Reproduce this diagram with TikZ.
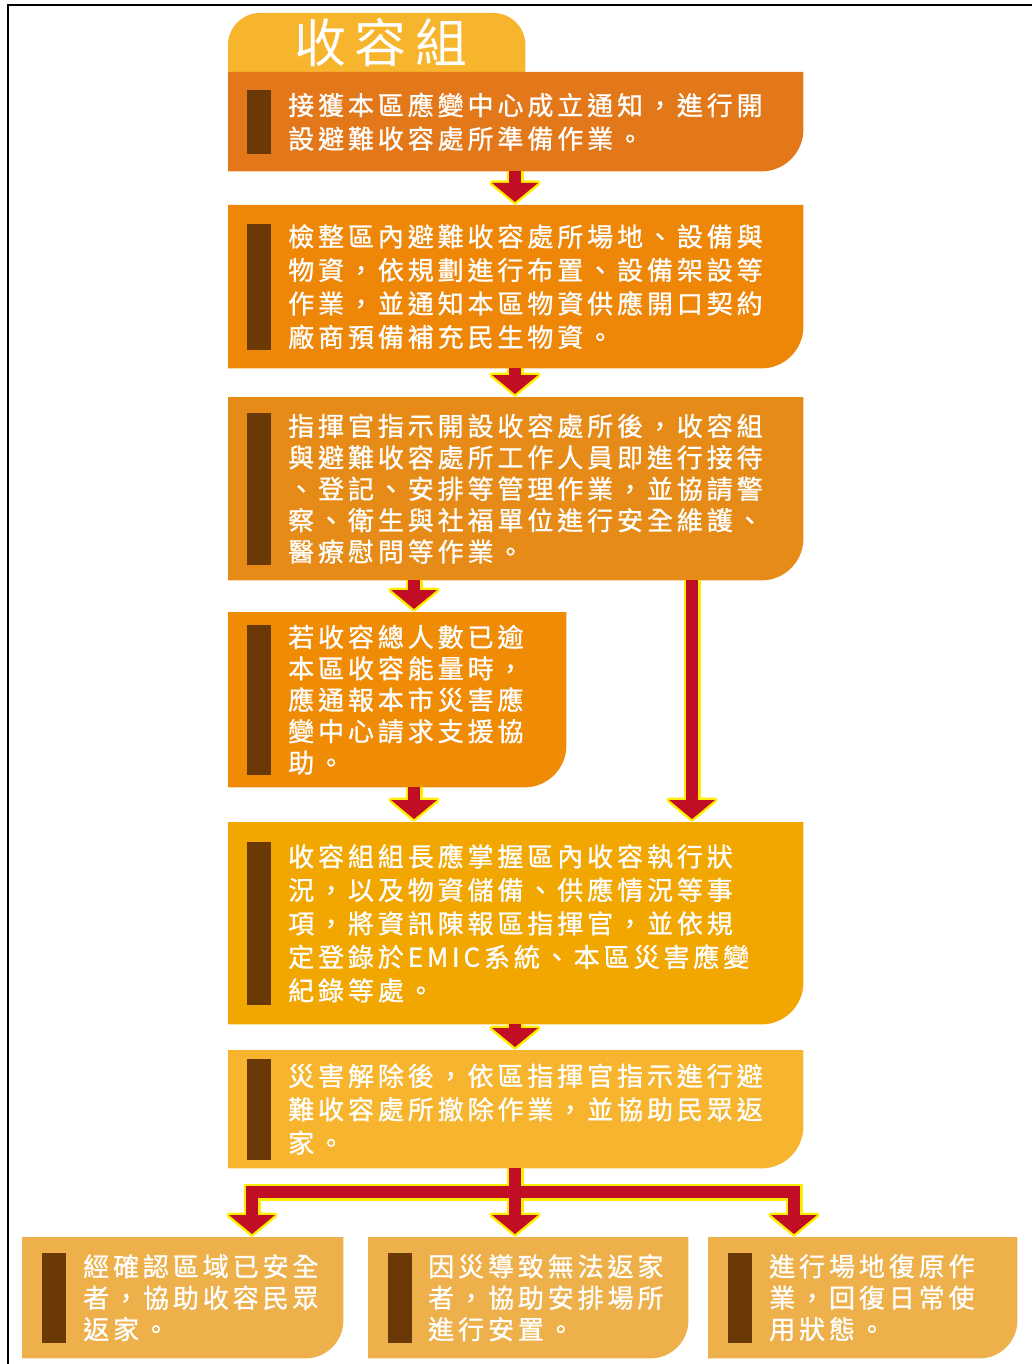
\documentclass[tikz,border=0pt]{standalone}
\usepackage{fontspec}
\newfontfamily\cjk[LetterSpace=15,FakeBold=1]{Noto Sans CJK TC}
\newfontfamily\cjktitle[LetterSpace=16]{Noto Sans CJK TC}
\usetikzlibrary{calc}
\usetikzlibrary{positioning}

\definecolor{tabcol}{HTML}{F7B52E}
\definecolor{stepone}{HTML}{E27819}
\definecolor{steptwo}{HTML}{EE8607}
\definecolor{stepthree}{HTML}{E68B17}
\definecolor{stepfour}{HTML}{EF8B04}
\definecolor{stepfive}{HTML}{F2A600}
\definecolor{stepsix}{HTML}{F7B52F}
\definecolor{endcol}{HTML}{EDB04A}
\definecolor{barbrown}{HTML}{6B3906}
\definecolor{arrowred}{HTML}{C20E24}
\definecolor{glowyellow}{HTML}{FFEE00}

% box with its lower right corner rounded
\newcommand{\boxfill}[3]{%
  \fill[#2] (#1.north west) -- (#1.north east) -- ([yshift=#3]#1.south east)
    arc[start angle=0, end angle=-90, radius=#3] -- (#1.south west) -- cycle;}

% red arrow with a yellow rim, #1 start, #2 tip
\newcommand{\flowarrow}[2]{%
  \draw[glowline] (#1) -- ($(#2)+(0,-16)$);
  \path[glowhead] (#2) -- ++(-23,-19) -- ++(46,0) -- cycle;
  \draw[redline] (#1) -- ($(#2)+(0,-16)$);
  \path[redhead] (#2) -- ++(-23,-19) -- ++(46,0) -- cycle;}

\begin{document}
\begin{tikzpicture}[%
  x=1pt, y=-1pt,
  box/.style={rectangle, inner sep=0pt, anchor=north west},
  bar/.style={rectangle, inner sep=0pt, fill=barbrown, minimum width=24pt},
  txt/.style={anchor=west, inner sep=0pt, text=white, align=left,
    font=\cjk\fontsize{26}{33.5}\selectfont},
  txttight/.style={txt, font=\cjk\fontsize{26}{31.4}\selectfont},
  glowline/.style={draw=glowyellow, line width=17pt},
  redline/.style={draw=arrowred, line width=12pt},
  glowhead/.style={fill=glowyellow, draw=glowyellow, line width=5pt, line join=round},
  redhead/.style={fill=arrowred}
]

  \useasboundingbox (0,0) rectangle (1032,1364);
  \draw[line width=2.5pt] (8,1364) -- (8,5) -- (1032,5);

  % columns of the arrows
  \coordinate (mid) at (515,0);
  \coordinate (lcol) at (414,0);
  \coordinate (rcol) at (692,0);
  \coordinate (acol) at (252,0);
  \coordinate (ccol) at (794,0);

  % title tab
  \node[box, minimum width=297pt, minimum height=59pt] (tab) at (228,13) {};
  \fill[tabcol] (tab.south west) -- ([yshift=-32pt]tab.north west)
    arc[start angle=180, end angle=90, radius=32pt] -- ([xshift=-32pt]tab.north east)
    arc[start angle=90, end angle=0, radius=32pt] -- (tab.south east) -- cycle;
  \node[inner sep=0pt, text=white, font=\cjktitle\fontsize{52}{54}\selectfont]
    (title) at (381,43) {收容組};

  % steps
  \node[box, minimum width=575pt, minimum height=99pt] (s1) at (228,72) {};
  \boxfill{s1}{stepone}{42pt}
  \node[bar, minimum height=64pt] (s1bar) at ([xshift=31pt]s1.west) {};
  \node[txt] (s1txt) at ([xshift=60pt]s1.west)
    {接獲本區應變中心成立通知，進行開\\設避難收容處所準備作業。};

  \node[box, minimum width=575pt, minimum height=163pt] (s2) at (228,205) {};
  \boxfill{s2}{steptwo}{42pt}
  \node[bar, minimum height=126pt] (s2bar) at ([xshift=31pt]s2.west) {};
  \node[txt] (s2txt) at ([xshift=60pt]s2.west)
    {檢整區內避難收容處所場地、設備與\\物資，依規劃進行布置、設備架設等\\%
     作業，並通知本區物資供應開口契約\\廠商預備補充民生物資。};

  \node[box, minimum width=575pt, minimum height=183pt] (s3) at (228,397) {};
  \boxfill{s3}{stepthree}{42pt}
  \node[bar, minimum height=152pt] (s3bar) at ([xshift=31pt]s3.west) {};
  \node[txttight] (s3txt) at ([xshift=60pt]s3.west)
    {指揮官指示開設收容處所後，收容組\\與避難收容處所工作人員即進行接待\\%
     、登記、安排等管理作業，並協請警\\察、衛生與社福單位進行安全維護、\\醫療慰問等作業。};

  \node[box, minimum width=338pt, minimum height=175pt] (s4) at (228,612) {};
  \boxfill{s4}{stepfour}{42pt}
  \node[bar, minimum height=150pt] (s4bar) at ([xshift=31pt]s4.west) {};
  \node[txttight] (s4txt) at ([xshift=60pt]s4.west)
    {若收容總人數已逾\\本區收容能量時，\\應通報本市災害應\\變中心請求支援協\\助。};

  \node[box, minimum width=575pt, minimum height=202pt] (s5) at (228,822) {};
  \boxfill{s5}{stepfive}{42pt}
  \node[bar, minimum height=163pt] (s5bar) at ([xshift=31pt]s5.west) {};
  \node[txt] (s5txt) at ([xshift=60pt]s5.west)
    {收容組組長應掌握區內收容執行狀\\況，以及物資儲備、供應情況等事\\%
     項，將資訊陳報區指揮官，並依規\\定登錄於EMIC系統、本區災害應變\\紀錄等處。};

  \node[box, minimum width=575pt, minimum height=118pt] (s6) at (228,1050) {};
  \boxfill{s6}{stepsix}{42pt}
  \node[bar, minimum height=101pt] (s6bar) at ([xshift=31pt]s6.west) {};
  \node[txt] (s6txt) at ([xshift=60pt]s6.west)
    {災害解除後，依區指揮官指示進行避\\難收容處所撤除作業，並協助民眾返\\家。};

  % three endings
  \node[box, minimum width=321pt, minimum height=121pt] (ea) at (22,1237) {};
  \boxfill{ea}{endcol}{38pt}
  \node[bar, minimum height=90pt] (eabar) at ([xshift=32pt]ea.west) {};
  \node[txttight] (eatxt) at ([xshift=61pt]ea.west)
    {經確認區域已安全\\者，協助收容民眾\\返家。};

  \node[box, minimum width=320pt, minimum height=121pt] (eb) at (368,1237) {};
  \boxfill{eb}{endcol}{38pt}
  \node[bar, minimum height=90pt] (ebbar) at ([xshift=32pt]eb.west) {};
  \node[txttight] (ebtxt) at ([xshift=60pt]eb.west)
    {因災導致無法返家\\者，協助安排場所\\進行安置。};

  \node[box, minimum width=309pt, minimum height=121pt] (ec) at (708,1237) {};
  \boxfill{ec}{endcol}{38pt}
  \node[bar, minimum height=90pt] (ecbar) at ([xshift=32pt]ec.west) {};
  \node[txttight] (ectxt) at ([xshift=61pt]ec.west)
    {進行場地復原作\\業，回復日常使\\用狀態。};

  % arrow tips
  \coordinate (h1) at ($(s2.north -| mid)+(0,-3)$);
  \coordinate (h2) at ($(s3.north -| mid)+(0,-3)$);
  \coordinate (h3) at ($(s4.north -| lcol)+(0,-3)$);
  \coordinate (h4) at ($(s5.north -| rcol)+(0,-3)$);
  \coordinate (h5) at ($(s5.north -| lcol)+(0,-3)$);
  \coordinate (h6) at ($(s6.north -| mid)+(0,-3)$);
  \coordinate (ha) at ($(ea.north -| acol)+(0,-3)$);
  \coordinate (hb) at ($(eb.north -| mid)+(0,-3)$);
  \coordinate (hc) at ($(ec.north -| ccol)+(0,-3)$);
  \coordinate (fork) at ($(s6.south -| mid)+(0,24)$);

  \flowarrow{s1.south -| mid}{h1}
  \flowarrow{s2.south -| mid}{h2}
  \flowarrow{s3.south -| lcol}{h3}
  \flowarrow{s3.south -| rcol}{h4}
  \flowarrow{s4.south -| lcol}{h5}
  \flowarrow{s5.south -| mid}{h6}

  % branching to the three endings
  \draw[glowline] (s6.south -| mid) -- ($(hb)+(0,-16)$);
  \draw[glowline, line join=miter] ($(ha)+(0,-16)$) |- (fork) -| ($(hc)+(0,-16)$);
  \foreach \h in {ha,hb,hc}
    \path[glowhead] (\h) -- ++(-23,-19) -- ++(46,0) -- cycle;
  \draw[redline] (s6.south -| mid) -- ($(hb)+(0,-16)$);
  \draw[redline, line join=miter] ($(ha)+(0,-16)$) |- (fork) -| ($(hc)+(0,-16)$);
  \foreach \h in {ha,hb,hc}
    \path[redhead] (\h) -- ++(-23,-19) -- ++(46,0) -- cycle;

\end{tikzpicture}
\end{document}
